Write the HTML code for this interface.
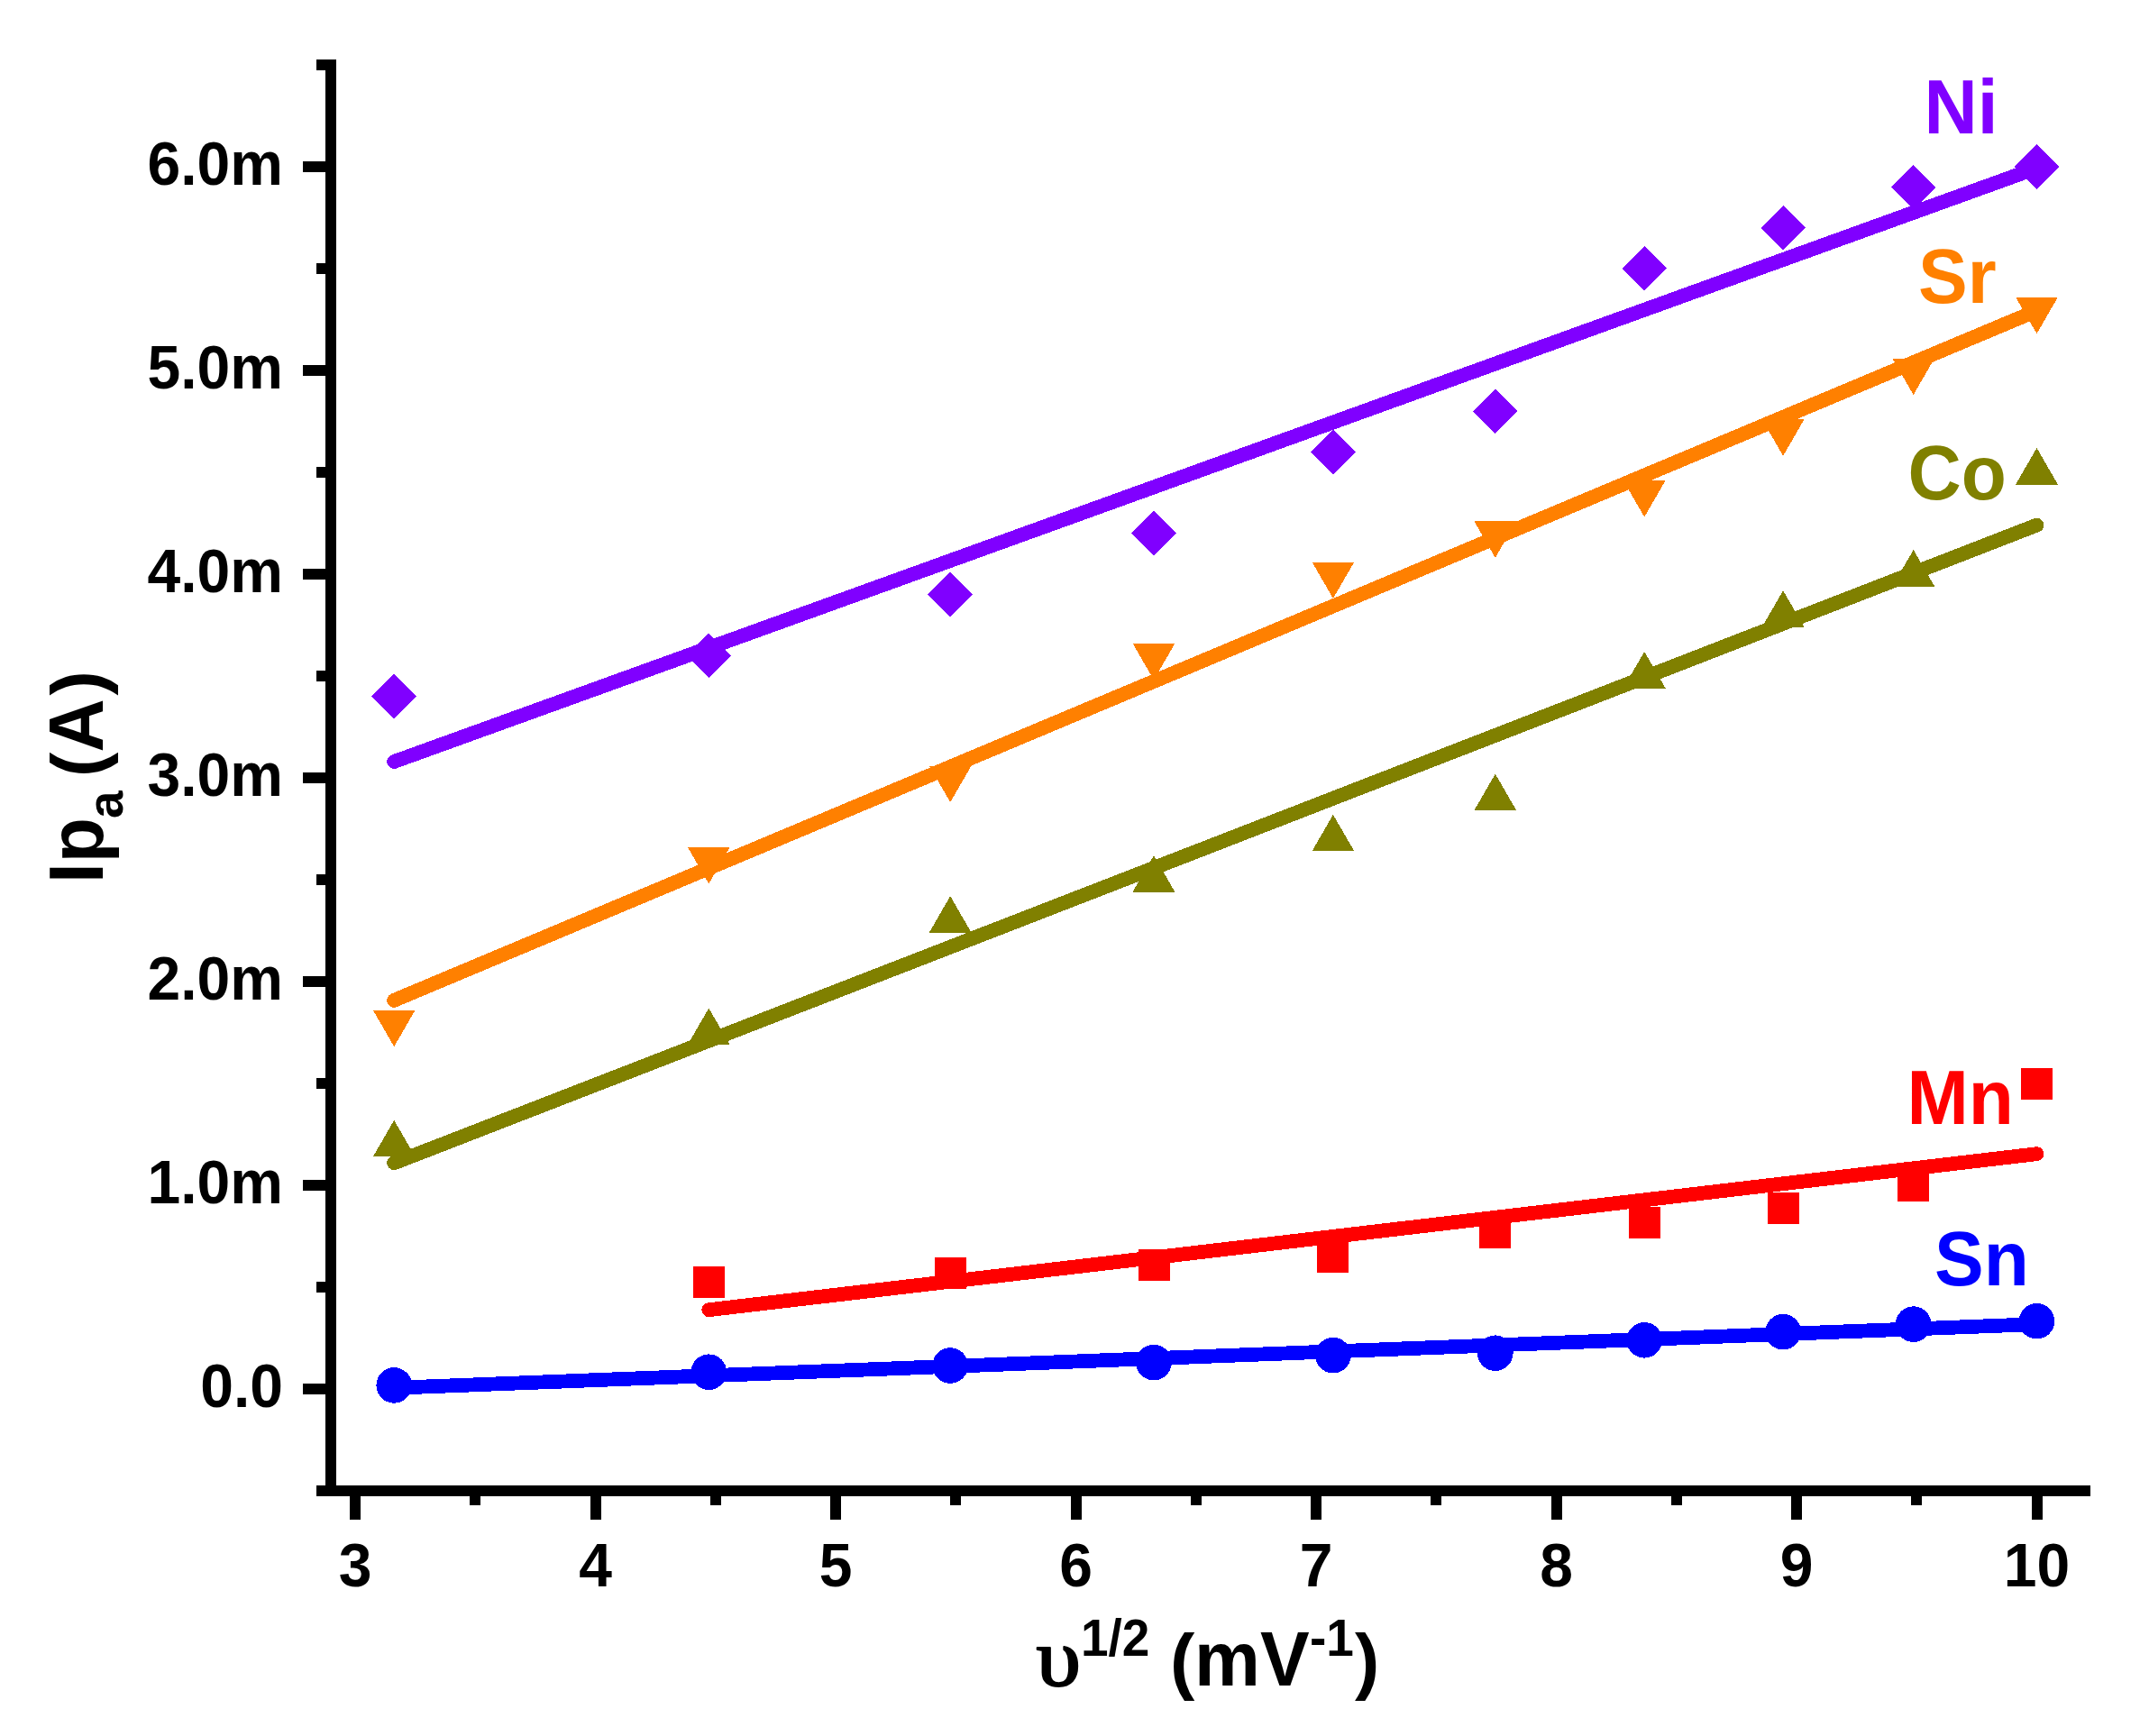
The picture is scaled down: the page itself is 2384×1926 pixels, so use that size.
<!DOCTYPE html>
<html><head><meta charset="utf-8"><title>Ipa vs scan rate</title>
<style>
html,body{margin:0;padding:0;background:#fff;}
svg{display:block;}
text{font-family:"Liberation Sans",Arial,Helvetica,sans-serif;font-weight:bold;}
</style></head><body>
<svg width="2384" height="1926" viewBox="0 0 2384 1926">
<rect x="0" y="0" width="2384" height="1926" fill="#ffffff"/>
<g fill="#0000ff" stroke="none" shape-rendering="crispEdges">
<line x1="437.2" y1="1539.8" x2="2259.5" y2="1469.1" stroke="#0000ff" stroke-width="15.8" stroke-linecap="round"/>
<circle cx="437.2" cy="1536.9" r="19.8"/>
<circle cx="786.3" cy="1522.2" r="19.8"/>
<circle cx="1054.2" cy="1515.0" r="19.8"/>
<circle cx="1280.0" cy="1511.6" r="19.8"/>
<circle cx="1478.9" cy="1503.7" r="19.8"/>
<circle cx="1658.8" cy="1501.2" r="19.8"/>
<circle cx="1824.2" cy="1486.8" r="19.8"/>
<circle cx="1978.1" cy="1477.7" r="19.8"/>
<circle cx="2122.7" cy="1469.1" r="19.8"/>
<circle cx="2259.5" cy="1465.7" r="19.8"/>
</g>
<g fill="#ff0000" stroke="none" shape-rendering="crispEdges">
<line x1="786.3" y1="1453.2" x2="2259.5" y2="1280.2" stroke="#ff0000" stroke-width="15.8" stroke-linecap="round"/>
<rect x="768.8" y="1405.1" width="35" height="35"/>
<rect x="1036.7" y="1395.1" width="35" height="35"/>
<rect x="1262.5" y="1385.9" width="35" height="35"/>
<rect x="1461.4" y="1376.6" width="35" height="35"/>
<rect x="1641.3" y="1349.7" width="35" height="35"/>
<rect x="1806.7" y="1338.9" width="35" height="35"/>
<rect x="1960.6" y="1322.6" width="35" height="35"/>
<rect x="2105.2" y="1297.5" width="35" height="35"/>
<rect x="2242.0" y="1185.2" width="35" height="35"/>
</g>
<g fill="#808000" stroke="none" shape-rendering="crispEdges">
<line x1="437.2" y1="1290.3" x2="2259.5" y2="582.6" stroke="#808000" stroke-width="15.8" stroke-linecap="round"/>
<polygon points="437.2,1242.8 460.6,1283.3 413.8,1283.3"/>
<polygon points="786.3,1118.5 809.7,1159.0 762.9,1159.0"/>
<polygon points="1054.2,994.2 1077.6,1034.7 1030.8,1034.7"/>
<polygon points="1280.0,949.0 1303.4,989.5 1256.6,989.5"/>
<polygon points="1478.9,903.8 1502.3,944.3 1455.5,944.3"/>
<polygon points="1658.8,858.6 1682.2,899.1 1635.4,899.1"/>
<polygon points="1824.2,723.0 1847.6,763.5 1800.8,763.5"/>
<polygon points="1978.1,655.2 2001.5,695.7 1954.7,695.7"/>
<polygon points="2122.7,610.0 2146.1,650.5 2099.3,650.5"/>
<polygon points="2259.5,497.0 2282.9,537.5 2236.1,537.5"/>
</g>
<g fill="#ff8000" stroke="none" shape-rendering="crispEdges">
<line x1="437.2" y1="1109.8" x2="2259.5" y2="344.7" stroke="#ff8000" stroke-width="15.8" stroke-linecap="round"/>
<polygon points="437.2,1161.2 460.6,1120.7 413.8,1120.7"/>
<polygon points="786.3,980.4 809.7,939.9 762.9,939.9"/>
<polygon points="1054.2,890.0 1077.6,849.5 1030.8,849.5"/>
<polygon points="1280.0,754.4 1303.4,713.9 1256.6,713.9"/>
<polygon points="1478.9,664.0 1502.3,623.5 1455.5,623.5"/>
<polygon points="1658.8,618.8 1682.2,578.3 1635.4,578.3"/>
<polygon points="1824.2,573.6 1847.6,533.1 1800.8,533.1"/>
<polygon points="1978.1,505.8 2001.5,465.3 1954.7,465.3"/>
<polygon points="2122.7,438.0 2146.1,397.5 2099.3,397.5"/>
<polygon points="2259.5,370.2 2282.9,329.7 2236.1,329.7"/>
</g>
<g fill="#8000ff" stroke="none" shape-rendering="crispEdges">
<line x1="437.2" y1="845.0" x2="2259.5" y2="186.4" stroke="#8000ff" stroke-width="15.8" stroke-linecap="round"/>
<polygon points="437.2,747.8 462.0,772.6 437.2,797.4 412.4,772.6"/>
<polygon points="786.3,702.6 811.1,727.4 786.3,752.2 761.5,727.4"/>
<polygon points="1054.2,634.8 1079.0,659.6 1054.2,684.4 1029.4,659.6"/>
<polygon points="1280.0,567.0 1304.8,591.8 1280.0,616.6 1255.2,591.8"/>
<polygon points="1478.9,476.6 1503.7,501.4 1478.9,526.2 1454.1,501.4"/>
<polygon points="1658.8,431.4 1683.6,456.2 1658.8,481.0 1634.0,456.2"/>
<polygon points="1824.2,273.2 1849.0,298.0 1824.2,322.8 1799.4,298.0"/>
<polygon points="1978.1,228.0 2002.9,252.8 1978.1,277.6 1953.3,252.8"/>
<polygon points="2122.7,182.8 2147.5,207.6 2122.7,232.4 2097.9,207.6"/>
<polygon points="2259.5,160.2 2284.3,185.0 2259.5,209.8 2234.7,185.0"/>
</g>
<g fill="#000000" shape-rendering="crispEdges">
<rect x="361" y="66" width="12" height="1594"/>
<rect x="351" y="1648" width="1968" height="12"/>
<rect x="336" y="1535" width="26" height="12"/>
<rect x="336" y="1309" width="26" height="12"/>
<rect x="336" y="1083" width="26" height="12"/>
<rect x="336" y="857" width="26" height="12"/>
<rect x="336" y="631" width="26" height="12"/>
<rect x="336" y="405" width="26" height="12"/>
<rect x="336" y="179" width="26" height="12"/>
<rect x="351" y="1422" width="11" height="12"/>
<rect x="351" y="1196" width="11" height="12"/>
<rect x="351" y="970" width="11" height="12"/>
<rect x="351" y="744" width="11" height="12"/>
<rect x="351" y="518" width="11" height="12"/>
<rect x="351" y="292" width="11" height="12"/>
<rect x="351" y="66" width="11" height="12"/>
<rect x="388.0" y="1659" width="12" height="27"/>
<rect x="654.5" y="1659" width="12" height="27"/>
<rect x="921.0" y="1659" width="12" height="27"/>
<rect x="1187.5" y="1659" width="12" height="27"/>
<rect x="1454.0" y="1659" width="12" height="27"/>
<rect x="1720.5" y="1659" width="12" height="27"/>
<rect x="1987.0" y="1659" width="12" height="27"/>
<rect x="2253.5" y="1659" width="12" height="27"/>
<rect x="521.2" y="1659" width="12" height="11"/>
<rect x="787.8" y="1659" width="12" height="11"/>
<rect x="1054.2" y="1659" width="12" height="11"/>
<rect x="1320.8" y="1659" width="12" height="11"/>
<rect x="1587.2" y="1659" width="12" height="11"/>
<rect x="1853.8" y="1659" width="12" height="11"/>
<rect x="2120.2" y="1659" width="12" height="11"/>
</g>
<text transform="translate(314,1561.3) scale(1,1.05)" font-size="66" text-anchor="end" fill="#000000">0.0</text>
<text transform="translate(314,1335.3) scale(1,1.05)" font-size="66" text-anchor="end" fill="#000000">1.0m</text>
<text transform="translate(314,1109.3) scale(1,1.05)" font-size="66" text-anchor="end" fill="#000000">2.0m</text>
<text transform="translate(314,883.3) scale(1,1.05)" font-size="66" text-anchor="end" fill="#000000">3.0m</text>
<text transform="translate(314,657.3) scale(1,1.05)" font-size="66" text-anchor="end" fill="#000000">4.0m</text>
<text transform="translate(314,431.3) scale(1,1.05)" font-size="66" text-anchor="end" fill="#000000">5.0m</text>
<text transform="translate(314,205.3) scale(1,1.05)" font-size="66" text-anchor="end" fill="#000000">6.0m</text>
<text transform="translate(394.0,1759.5) scale(1,1.05)" font-size="66" text-anchor="middle" fill="#000000">3</text>
<text transform="translate(660.5,1759.5) scale(1,1.05)" font-size="66" text-anchor="middle" fill="#000000">4</text>
<text transform="translate(927.0,1759.5) scale(1,1.05)" font-size="66" text-anchor="middle" fill="#000000">5</text>
<text transform="translate(1193.5,1759.5) scale(1,1.05)" font-size="66" text-anchor="middle" fill="#000000">6</text>
<text transform="translate(1460.0,1759.5) scale(1,1.05)" font-size="66" text-anchor="middle" fill="#000000">7</text>
<text transform="translate(1726.5,1759.5) scale(1,1.05)" font-size="66" text-anchor="middle" fill="#000000">8</text>
<text transform="translate(1993.0,1759.5) scale(1,1.05)" font-size="66" text-anchor="middle" fill="#000000">9</text>
<text transform="translate(2259.5,1759.5) scale(1,1.05)" font-size="66" text-anchor="middle" fill="#000000">10</text>
<text transform="translate(2134.5,147.8) scale(1,1.03)" font-size="82" text-anchor="start" fill="#8000ff">Ni</text>
<text transform="translate(2128,335.5) scale(1,1.03)" font-size="82" text-anchor="start" fill="#ff8000">Sr</text>
<text transform="translate(2116.5,554.3) scale(1,1.03)" font-size="82" text-anchor="start" fill="#808000">Co</text>
<text transform="translate(2115.5,1247) scale(1,1.03)" font-size="82" text-anchor="start" fill="#ff0000">Mn</text>
<text transform="translate(2146,1426) scale(1,1.03)" font-size="82" text-anchor="start" fill="#0000ff">Sn</text>
<g>
<text transform="translate(1149.4,1870.1) scale(1.11,1)" style="font-family:'Liberation Serif','DejaVu Serif',serif;font-weight:normal" font-size="90.1" fill="#000" stroke="#000" stroke-width="2" stroke-linejoin="round">υ</text>
<text transform="translate(1199,1836.5) scale(1,1.04)" font-size="55" text-anchor="start" fill="#000000">1/2</text>
<text transform="translate(1298,1870) scale(1,0.985)" font-size="82" text-anchor="start" fill="#000000">(</text>
<text transform="translate(1325,1870) scale(1,1.035)" font-size="82" text-anchor="start" fill="#000000">mV</text>
<text transform="translate(1453,1836.5) scale(1,1.04)" font-size="55" text-anchor="start" fill="#000000">-1</text>
<text transform="translate(1503,1870) scale(1,0.985)" font-size="82" text-anchor="start" fill="#000000">)</text>
</g>
<g transform="translate(114,0) rotate(-90)">
<text transform="translate(-980,0) scale(1,1.03)" font-size="82" text-anchor="start" fill="#000000">Ip</text>
<text transform="translate(-908,22) scale(1,1.0)" font-size="55" text-anchor="start" fill="#000000">a</text>
<text transform="translate(-862,0) scale(1,0.985)" font-size="82" text-anchor="start" fill="#000000">(</text>
<text transform="translate(-834.5,0) scale(1,1.04)" font-size="82" text-anchor="start" fill="#000000">A</text>
<text transform="translate(-771.5,0) scale(1,0.985)" font-size="82" text-anchor="start" fill="#000000">)</text>
</g>
</svg></body></html>
